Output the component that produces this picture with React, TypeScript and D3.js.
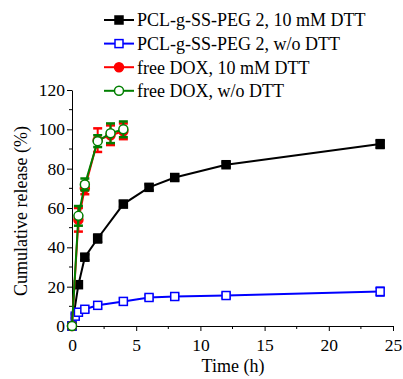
import React, { useEffect, useRef } from 'react';
import * as d3 from 'd3';

const pclTime = [0, 0.5, 1, 2, 4, 6, 8, 12, 24];
const pclDtt = [0, 21, 35, 44.5, 62, 70.5, 75.5, 82, 92.5];
const pclDttErr = [0, 1.5, 1.5, 2, 1.5, 1.5, 1.5, 1.2, 2];

const pclNoTime = [0, 0.25, 0.5, 1, 2, 4, 6, 8, 12, 24];
const pclNo = [0, 5, 7, 8.5, 10.5, 12.5, 14.5, 15, 15.5, 17.5];
const pclNoErr = [0, 1, 1, 1.2, 1.5, 1.5, 1.2, 1.2, 1.2, 2];

const doxTime = [0, 0.5, 1, 2, 3, 4];
const doxDtt = [0, 54, 70, 94.5, 97, 99];
const doxDttErr = [0, 6, 3, 6, 5, 4];
const doxNo = [0, 56, 72, 94, 98, 100];
const doxNoErr = [0, 5, 3, 3, 5, 4];

const xTicks = [0, 5, 10, 15, 20, 25];
const yTicks = [0, 20, 40, 60, 80, 100, 120];

const legendLabels = [
  'PCL-g-SS-PEG 2, 10 mM DTT',
  'PCL-g-SS-PEG 2, w/o DTT',
  'free DOX, 10 mM DTT',
  'free DOX, w/o DTT',
];

const font = "'Liberation Serif', 'Times New Roman', Times, serif";

const App = () => {
  const svgRef = useRef<SVGSVGElement>(null);

  useEffect(() => {
    const svg = d3.select(svgRef.current);
    svg.selectAll('*').remove();

    const x = d3.scaleLinear().domain([0, 25]).range([72, 393]);
    const y = d3.scaleLinear().domain([0, 120]).range([326, 90]);

    // axes
    const xAxis = svg.append('g').attr('transform', 'translate(0,326)');
    xAxis.call(d3.axisBottom(x).tickValues(xTicks).tickSize(5).tickSizeOuter(0).tickFormat(d3.format('d')));
    xAxis.append('g').selectAll('line').data(d3.range(2.5, 25, 5)).enter().append('line')
      .attr('x1', d => x(d)).attr('x2', d => x(d)).attr('y1', 0).attr('y2', 3).attr('stroke', '#000');

    const yAxis = svg.append('g').attr('transform', 'translate(72,0)');
    yAxis.call(d3.axisLeft(y).tickValues(yTicks).tickSize(5).tickSizeOuter(0).tickFormat(d3.format('d')));
    yAxis.append('g').selectAll('line').data(d3.range(10, 120, 20)).enter().append('line')
      .attr('y1', d => y(d)).attr('y2', d => y(d)).attr('x1', 0).attr('x2', -3).attr('stroke', '#000');

    svg.selectAll('g').attr('font-family', null).attr('font-size', null);
    svg.selectAll('.tick text').style('font-size', '17.5px').attr('fill', '#000');
    xAxis.selectAll('.tick text').attr('dy', '0.95em');
    yAxis.selectAll('.tick text').attr('x', -7);
    svg.selectAll('.domain, .tick line').attr('stroke', '#000');

    svg.append('text').attr('x', 233).attr('y', 372).attr('text-anchor', 'middle')
      .style('font-size', '18px').text('Time (h)');
    svg.append('text').attr('transform', 'translate(27,211) rotate(-90)').attr('text-anchor', 'middle')
      .style('font-size', '18px').text('Cumulative release (%)');

    const line = d3.line<[number, number]>().x(d => x(d[0])).y(d => y(d[1]));

    const series = [
      { t: pclTime, v: pclDtt, e: pclDttErr, color: '#000000', shape: 'square', fill: '#000000' },
      { t: pclNoTime, v: pclNo, e: pclNoErr, color: '#0000ff', shape: 'square', fill: '#ffffff' },
      { t: doxTime, v: doxDtt, e: doxDttErr, color: '#ff0000', shape: 'circle', fill: '#ff0000' },
      { t: doxTime, v: doxNo, e: doxNoErr, color: '#007f00', shape: 'circle', fill: '#ffffff' },
    ];

    const drawMarker = (g: any, shape: string, cx: number, cy: number, color: string, fill: string) => {
      if (shape === 'square') {
        g.append('rect').attr('x', cx - 4).attr('y', cy - 4).attr('width', 8).attr('height', 8)
          .attr('fill', fill).attr('stroke', color).attr('stroke-width', 1.5);
      } else {
        g.append('circle').attr('cx', cx).attr('cy', cy).attr('r', 4.5)
          .attr('fill', fill).attr('stroke', color).attr('stroke-width', 1.5);
      }
    };

    series.forEach(s => {
      const g = svg.append('g');
      const pts: [number, number][] = s.t.map((t, i) => [t, s.v[i]]);
      g.append('path').attr('d', line(pts)).attr('fill', 'none').attr('stroke', s.color).attr('stroke-width', 2);
      pts.forEach((p, i) => {
        const err = s.e[i];
        if (err > 0) {
          const cx = x(p[0]);
          const top = y(p[1] + err);
          const bot = y(p[1] - err);
          g.append('line').attr('x1', cx).attr('x2', cx).attr('y1', top).attr('y2', bot)
            .attr('stroke', s.color).attr('stroke-width', 2);
          [top, bot].forEach(yy => g.append('line').attr('x1', cx - 4.5).attr('x2', cx + 4.5)
            .attr('y1', yy).attr('y2', yy).attr('stroke', s.color).attr('stroke-width', 2.5));
        }
        drawMarker(g, s.shape, x(p[0]), y(p[1]), s.color, s.fill);
      });
    });

    // legend
    const lg = svg.append('g');
    series.forEach((s, i) => {
      const yy = 20 + i * 23.6;
      lg.append('line').attr('x1', 104).attr('x2', 134).attr('y1', yy).attr('y2', yy)
        .attr('stroke', s.color).attr('stroke-width', 2);
      drawMarker(lg, s.shape, 119, yy, s.color, s.fill);
      lg.append('text').attr('x', 137).attr('y', yy).attr('dy', '0.35em')
        .style('font-size', '18px').text(legendLabels[i]);
    });
  }, []);

  return (
    <svg ref={svgRef} width={403} height={379}
      style={{ position: 'absolute', left: 0, top: 0, fontFamily: font }}></svg>
  );
};

export default App;
